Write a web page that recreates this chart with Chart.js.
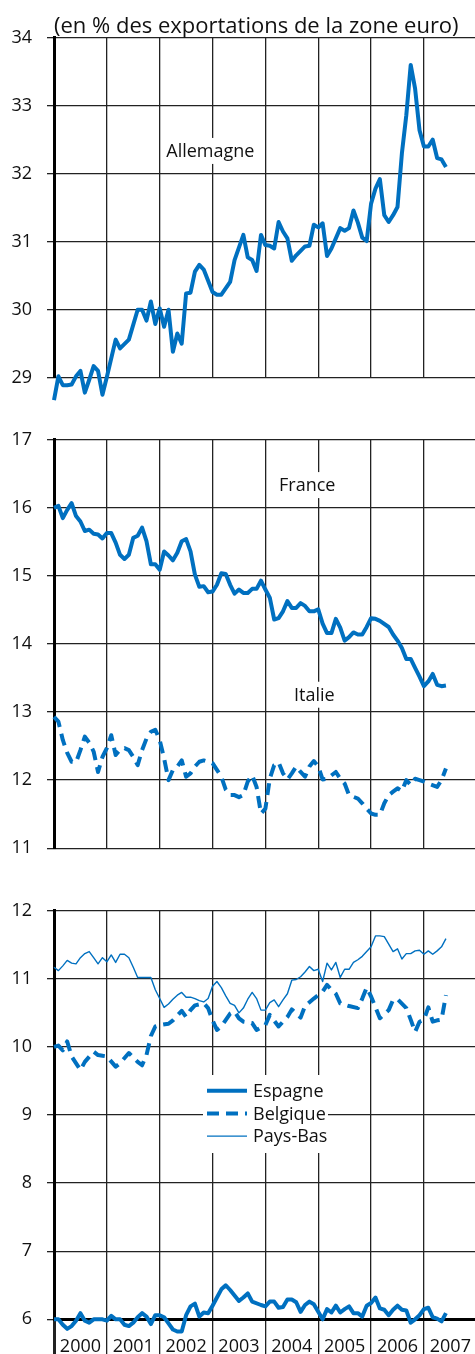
<!DOCTYPE html>
<html lang="fr">
<head>
<meta charset="utf-8">
<script src="https://cdn.jsdelivr.net/npm/chart.js@4.4.0/dist/chart.umd.min.js"></script>
<style>
  body { margin: 0; background: #fff; }
  #page { position: relative; width: 475px; height: 1354px; overflow: hidden; }
  canvas { position: absolute; left: 0; }
</style>
</head>
<body>
<div id="page">
  <canvas id="c1" width="475" height="420" style="top:0"></canvas>
  <canvas id="c2" width="475" height="460" style="top:414px"></canvas>
  <canvas id="c3" width="475" height="484" style="top:870px"></canvas>
</div>
<script>
// parts des exportations de la zone euro, mois depuis janvier 2000
const annees = ['2000', '2001', '2002', '2003', '2004', '2005', '2006', '2007']

const allemagne = [
  [0, 28.67], [1, 29.02], [2, 28.89], [3, 28.89], [4, 28.90], [5, 29.02], [6, 29.10], [7, 28.78],
  [8, 28.97], [9, 29.17], [10, 29.10], [11, 28.75], [12, 29.01], [14, 29.56], [15, 29.43], [17, 29.56],
  [19, 30.00], [20, 30.00], [21, 29.84], [22, 30.12], [23, 29.79], [24, 30.02], [25, 29.75], [26, 30.00],
  [27, 29.38], [28, 29.65], [29, 29.50], [30, 30.24], [31, 30.25], [32, 30.56], [33, 30.66], [34, 30.59],
  [36, 30.26], [37, 30.22], [38, 30.22], [40, 30.41], [41, 30.73], [43, 31.10], [44, 30.77], [45, 30.73],
  [46, 30.57], [47, 31.10], [48, 30.95], [49, 30.94], [50, 30.90], [51, 31.29], [52, 31.15], [53, 31.05],
  [54, 30.72], [55, 30.80], [57, 30.93], [58, 30.94], [59, 31.25], [60, 31.21], [61, 31.27], [62, 30.79],
  [63, 30.90], [65, 31.20], [66, 31.16], [67, 31.20], [68, 31.46], [69, 31.28], [70, 31.06], [71, 31.01],
  [72, 31.56], [73, 31.78], [74, 31.92], [75, 31.39], [76, 31.29], [77, 31.39], [78, 31.51], [79, 32.30],
  [80, 32.86], [81, 33.60], [82, 33.25], [83, 32.64], [84, 32.40], [85, 32.40], [86, 32.50], [87, 32.23],
  [88, 32.21], [89, 32.10]
]

const france = [
  [0, 16.00], [1, 16.03], [2, 15.85], [3, 15.97], [4, 16.07], [5, 15.88], [6, 15.80], [7, 15.66],
  [8, 15.68], [9, 15.62], [10, 15.61], [11, 15.55], [12, 15.63], [13, 15.63], [14, 15.49], [15, 15.31],
  [16, 15.25], [17, 15.31], [18, 15.56], [19, 15.59], [20, 15.71], [21, 15.51], [22, 15.17], [23, 15.17],
  [24, 15.09], [25, 15.36], [26, 15.30], [27, 15.23], [28, 15.34], [29, 15.51], [30, 15.54], [31, 15.36],
  [32, 15.02], [33, 14.84], [34, 14.85], [35, 14.76], [36, 14.77], [37, 14.87], [38, 15.04], [39, 15.03],
  [40, 14.87], [41, 14.74], [42, 14.80], [43, 14.75], [44, 14.75], [45, 14.81], [46, 14.81], [47, 14.93],
  [48, 14.80], [49, 14.68], [50, 14.36], [51, 14.38], [52, 14.48], [53, 14.63], [54, 14.53], [55, 14.53],
  [56, 14.60], [57, 14.56], [58, 14.48], [59, 14.48], [60, 14.51], [61, 14.30], [62, 14.16], [63, 14.16],
  [64, 14.37], [65, 14.24], [66, 14.05], [67, 14.10], [68, 14.17], [69, 14.14], [70, 14.14], [71, 14.25],
  [72, 14.38], [73, 14.37], [74, 14.34], [76, 14.25], [77, 14.14], [78, 14.05], [79, 13.94], [80, 13.78],
  [81, 13.78], [82, 13.65], [83, 13.52], [84, 13.38], [85, 13.45], [86, 13.56], [87, 13.40], [88, 13.38],
  [89, 13.39]
]

const italie = [
  [0, 12.93], [1, 12.86], [2, 12.59], [3, 12.40], [4, 12.27], [5, 12.26], [6, 12.44], [7, 12.64],
  [8, 12.55], [9, 12.42], [10, 12.12], [11, 12.34], [12, 12.47], [13, 12.66], [14, 12.37], [15, 12.45],
  [16, 12.47], [17, 12.44], [18, 12.34], [19, 12.22], [20, 12.44], [21, 12.61], [22, 12.71], [23, 12.74],
  [24, 12.59], [25, 12.32], [26, 12.00], [27, 12.15], [28, 12.20], [29, 12.29], [30, 12.05], [31, 12.10],
  [32, 12.20], [33, 12.27], [34, 12.29], [35, 12.27], [36, 12.25], [38, 12.05], [39, 11.86], [40, 11.78],
  [41, 11.78], [42, 11.75], [43, 11.78], [44, 11.98], [45, 12.07], [46, 11.90], [47, 11.51], [48, 11.58],
  [49, 12.02], [50, 12.22], [51, 12.26], [52, 12.10], [53, 12.01], [54, 12.10], [55, 12.20], [56, 12.12],
  [57, 12.05], [58, 12.20], [59, 12.28], [60, 12.20], [61, 12.01], [62, 12.02], [64, 12.12], [65, 12.02],
  [66, 11.95], [67, 11.78], [69, 11.73], [70, 11.66], [71, 11.58], [72, 11.51], [73, 11.49], [74, 11.49],
  [75, 11.66], [76, 11.78], [77, 11.83], [78, 11.88], [79, 11.84], [80, 12.00], [81, 11.93], [82, 12.02],
  [83, 12.00], [84, 11.98], [85, 11.95], [87, 11.90], [88, 12.00], [89, 12.17]
]

const espagne = [
  [0, 6.00], [1, 6.00], [2, 5.92], [3, 5.86], [4, 5.90], [5, 5.98], [6, 6.09], [7, 5.98],
  [8, 5.95], [9, 6.00], [10, 6.00], [11, 6.00], [12, 5.98], [13, 6.05], [14, 6.00], [15, 6.00],
  [16, 5.92], [17, 5.90], [18, 5.95], [19, 6.03], [20, 6.09], [21, 6.04], [22, 5.93], [23, 6.06],
  [24, 6.06], [25, 6.03], [26, 5.94], [27, 5.85], [28, 5.82], [29, 5.82], [30, 6.06], [31, 6.19],
  [32, 6.23], [33, 6.04], [34, 6.10], [35, 6.09], [36, 6.20], [37, 6.32], [38, 6.44], [39, 6.50],
  [40, 6.43], [42, 6.27], [43, 6.32], [44, 6.38], [45, 6.26], [47, 6.21], [48, 6.19], [49, 6.26],
  [50, 6.26], [51, 6.17], [52, 6.18], [53, 6.29], [54, 6.29], [55, 6.25], [56, 6.11], [57, 6.21],
  [58, 6.26], [59, 6.22], [60, 6.11], [61, 6.00], [62, 6.15], [63, 6.10], [64, 6.20], [65, 6.10],
  [66, 6.15], [67, 6.19], [68, 6.09], [69, 6.09], [70, 6.04], [71, 6.20], [72, 6.24], [73, 6.32],
  [74, 6.16], [75, 6.14], [76, 6.06], [77, 6.14], [78, 6.20], [79, 6.14], [80, 6.13], [81, 5.95],
  [82, 6.00], [83, 6.06], [84, 6.15], [85, 6.17], [86, 6.03], [87, 6.01], [88, 5.97], [89, 6.09]
]

const belgique = [
  [0, 10.00], [1, 10.02], [2, 9.95], [3, 10.08], [4, 9.86], [6, 9.66], [7, 9.78], [9, 9.93],
  [10, 9.88], [11, 9.87], [12, 9.86], [14, 9.71], [15, 9.76], [17, 9.91], [19, 9.78], [20, 9.73],
  [21, 9.88], [22, 10.16], [23, 10.30], [24, 10.32], [26, 10.34], [27, 10.39], [29, 10.53], [30, 10.44],
  [31, 10.54], [32, 10.61], [34, 10.64], [35, 10.57], [36, 10.39], [37, 10.25], [38, 10.30], [40, 10.49],
  [41, 10.52], [42, 10.42], [43, 10.37], [45, 10.35], [46, 10.25], [48, 10.32], [49, 10.47], [51, 10.30],
  [53, 10.44], [54, 10.55], [56, 10.43], [57, 10.60], [59, 10.71], [61, 10.81], [62, 10.91], [63, 10.84],
  [64, 10.78], [65, 10.64], [67, 10.60], [69, 10.57], [70, 10.71], [71, 10.87], [72, 10.74], [73, 10.58],
  [74, 10.42], [76, 10.54], [77, 10.69], [78, 10.70], [80, 10.57], [81, 10.40], [82, 10.22], [83, 10.37],
  [84, 10.40], [85, 10.58], [86, 10.37], [87, 10.39], [88, 10.40], [89, 10.76]
]

const paysBas = [
  [0, 11.17], [1, 11.12], [2, 11.19], [3, 11.27], [4, 11.23], [5, 11.22], [6, 11.31], [7, 11.37],
  [8, 11.40], [9, 11.31], [10, 11.22], [11, 11.31], [12, 11.25], [13, 11.35], [14, 11.24], [15, 11.36],
  [16, 11.36], [17, 11.31], [18, 11.17], [19, 11.02], [20, 11.02], [21, 11.02], [22, 11.02], [23, 10.84],
  [24, 10.71], [25, 10.58], [26, 10.63], [27, 10.70], [28, 10.76], [29, 10.80], [30, 10.73], [31, 10.73],
  [32, 10.71], [33, 10.68], [34, 10.66], [35, 10.71], [36, 10.89], [37, 10.96], [38, 10.87], [39, 10.75],
  [40, 10.64], [41, 10.61], [42, 10.50], [43, 10.57], [44, 10.70], [45, 10.80], [46, 10.71], [47, 10.54],
  [48, 10.54], [49, 10.65], [50, 10.69], [51, 10.59], [52, 10.69], [53, 10.78], [54, 10.98], [55, 10.99],
  [56, 11.03], [57, 11.10], [58, 11.18], [59, 11.12], [60, 11.14], [61, 10.96], [62, 11.23], [63, 11.13],
  [64, 11.24], [65, 11.02], [66, 11.14], [67, 11.14], [68, 11.24], [69, 11.28], [70, 11.33], [71, 11.40],
  [72, 11.47], [73, 11.63], [74, 11.63], [75, 11.62], [76, 11.51], [77, 11.40], [78, 11.44], [79, 11.29],
  [80, 11.37], [81, 11.37], [82, 11.41], [83, 11.42], [84, 11.36], [85, 11.41], [86, 11.36], [87, 11.41],
  [88, 11.47], [89, 11.59]
]

const bleu = '#0070c0'
const noir = '#111'
const grille = '#222'
const police = '"Open Sans"'
const finMois = 95.6

const points = serie => serie.map(([m, v]) => ({ x: m, y: v }))

// étiquettes de série posées sur un fond blanc qui coupe la grille
const etiquettes = {
  id: 'etiquettes',
  beforeDatasetsDraw(chart, args, opts) {
    const { ctx, scales } = chart
    ctx.save()
    ctx.font = `18px ${police}`
    ctx.textBaseline = 'middle'
    ;(opts.items || []).forEach(e => {
      const px = scales.x.getPixelForValue(e.x)
      const py = scales.y.getPixelForValue(e.y)
      const w = ctx.measureText(e.text).width
      ctx.fillStyle = '#fff'
      ctx.fillRect(px - 4, py - 14, w + 12, 26)
      ctx.fillStyle = noir
      ctx.fillText(e.text, px, py)
    })
    ctx.restore()
  }
}

// légende encadrée de blanc, dessinée avec le style de chaque série
const legende = {
  id: 'legende',
  beforeDatasetsDraw(chart, args, opts) {
    if (!opts.display) return
    const { ctx, chartArea } = chart
    const x0 = chartArea.left + opts.left
    const y0 = chartArea.top + opts.top
    ctx.save()
    ctx.fillStyle = '#fff'
    ctx.fillRect(x0, y0, opts.width, opts.height)
    ctx.font = `18px ${police}`
    ctx.textBaseline = 'middle'
    chart.data.datasets.forEach((ds, i) => {
      const y = y0 + 15.7 + i * 22.7
      ctx.beginPath()
      ctx.strokeStyle = ds.borderColor
      ctx.lineWidth = ds.borderWidth
      ctx.setLineDash(ds.borderDash || [])
      ctx.moveTo(x0 + 4, y)
      ctx.lineTo(x0 + 44, y)
      ctx.stroke()
      ctx.setLineDash([])
      ctx.fillStyle = noir
      ctx.fillText(ds.label, x0 + 50, y + 1)
    })
    ctx.restore()
  }
}

function serie(label, data, style) {
  return Object.assign({
    label: label,
    data: points(data),
    borderColor: bleu,
    borderWidth: 4,
    pointRadius: 0,
    tension: 0,
    borderJoinStyle: 'round',
    clip: false
  }, style)
}

function axeY(min, max) {
  return {
    min: min,
    max: max,
    afterFit: s => { s.width = 54 },
    ticks: { stepSize: 1, color: noir, padding: 15, font: { family: police, size: 18 } },
    grid: { color: grille, lineWidth: 1.3, tickLength: 7 },
    border: { color: '#000', width: 3 }
  }
}

function axeX() {
  return {
    type: 'linear',
    min: 0,
    max: finMois,
    afterBuildTicks: s => { s.ticks = annees.map((a, i) => ({ value: i * 12 })) },
    ticks: { display: false },
    grid: { color: grille, lineWidth: 1.3, drawTicks: false },
    border: { display: false }
  }
}

function options(yMin, yMax, padding) {
  return {
    responsive: false,
    animation: false,
    layout: { padding: padding },
    scales: { x: axeX(), y: axeY(yMin, yMax) },
    plugins: { legend: { display: false }, tooltip: { enabled: false } }
  }
}

// Allemagne
const opt1 = options(29, 34, { top: 0, bottom: 42.3, left: 0, right: 0 })
opt1.plugins.title = {
  display: true,
  text: '(en % des exportations de la zone euro)',
  align: 'start',
  fullSize: false,
  color: noir,
  font: { family: police, size: 22, weight: 'normal', lineHeight: 1 },
  padding: { top: 15.7, bottom: 0 }
}
opt1.plugins.etiquettes = { items: [{ text: 'Allemagne', x: 25.5, y: 32.32 }] }
new Chart(document.getElementById('c1'), {
  type: 'line',
  data: { datasets: [serie('Allemagne', allemagne)] },
  options: opt1,
  plugins: [etiquettes]
})

// France et Italie
const opt2 = options(11, 17, 0)
opt2.plugins.etiquettes = {
  items: [
    { text: 'France', x: 51.1, y: 16.32 },
    { text: 'Italie', x: 54.5, y: 13.24 }
  ]
}
new Chart(document.getElementById('c2'), {
  type: 'line',
  data: {
    datasets: [
      serie('France', france),
      serie('Italie', italie, { borderDash: [12, 7] })
    ]
  },
  options: opt2,
  plugins: [etiquettes]
})

// Espagne, Belgique, Pays-Bas
const opt3 = options(6, 12, { top: 40.7, bottom: 0, left: 0, right: 0 })
opt3.scales.x = {
  type: 'linear',
  min: 0,
  max: finMois,
  afterBuildTicks: s => {
    s.ticks = []
    for (let i = 0; i < annees.length * 2; i++) s.ticks.push({ value: i * 6 })
  },
  afterFit: s => { s.height = 34.7 },
  ticks: {
    autoSkip: false,
    maxRotation: 0,
    padding: -19,
    color: noir,
    font: { family: police, size: 18 },
    callback: v => (v % 12 === 6 ? annees[(v - 6) / 12] : '')
  },
  grid: {
    color: c => (c.tick && c.tick.value % 12 === 0 ? grille : 'rgba(0,0,0,0)'),
    lineWidth: c => (c.tick && c.tick.value === 0 ? 3 : 1.3),
    tickLength: 36
  },
  border: { color: '#000', width: 3 }
}
opt3.plugins.legende = { display: true, left: 149, top: 164.3, width: 125, height: 78 }
new Chart(document.getElementById('c3'), {
  type: 'line',
  data: {
    datasets: [
      serie('Espagne', espagne),
      serie('Belgique', belgique, { borderDash: [12, 7] }),
      serie('Pays-Bas', paysBas, { borderWidth: 1.4 })
    ]
  },
  options: opt3,
  plugins: [legende]
})
</script>
</body>
</html>
